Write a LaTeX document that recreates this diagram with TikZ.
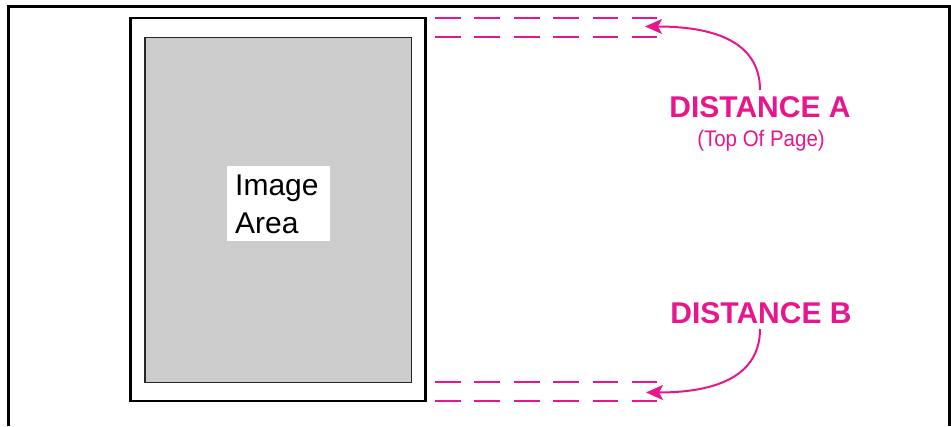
\documentclass[tikz,border=0pt]{standalone}
\usepackage{fontspec}
\setmainfont{Liberation Sans}
\newfontfamily\condfont[FakeStretch=0.91]{Liberation Sans}
\usetikzlibrary{arrows.meta}
\definecolor{mag}{RGB}{231,22,140}
\definecolor{areagray}{RGB}{204,204,204}
\tikzset{
  frameline/.style={line width=3pt, black},
  pageline/.style={line width=2.5pt, black},
  dashrow/.style={mag, line width=2pt, dash pattern=on 25.7pt off 13.7pt},
  magarrow/.style={mag, line width=2pt, -{Stealth[length=17pt, width=15pt, inset=4pt]}},
  bigmag/.style={mag, font=\fontsize{30}{30}\selectfont\bfseries, anchor=base, inner sep=0pt},
  smallmag/.style={mag, font=\condfont\fontsize{22.5}{22.5}\selectfont, anchor=base, inner sep=0pt},
  arealabel/.style={font=\fontsize{30}{38}\selectfont, anchor=base west, inner sep=0pt, align=left}
}
\begin{document}
\begin{tikzpicture}[x=1pt, y=-1pt]
\useasboundingbox (0,0) rectangle (951,426);
% outer frame (bottom edge not shown)
\draw[frameline] (8.5,426) -- (8.5,6.5) -- (949.5,6.5) -- (949.5,426);
% page and image area
\draw[pageline, fill=white] (130.5,17.8) rectangle (425.3,401.2);
\draw[line width=1.3pt, black!85, fill=areagray] (145,37.3) rectangle (411.7,382.2);
\fill[white] (227,166) rectangle (330,241);
\node[arealabel] (imgtxt) at (235,195) {Image};
\node[arealabel] (areatxt) at (235,233) {Area};
% dashed guide lines
\coordinate (t1s) at (435,17.8);  \coordinate (t1e) at (657,17.8);
\coordinate (t2s) at (435,36.8);  \coordinate (t2e) at (657,36.8);
\coordinate (b1s) at (435,382.2); \coordinate (b1e) at (657,382.2);
\coordinate (b2s) at (435,401.2); \coordinate (b2e) at (657,401.2);
\draw[dashrow] (t1s) -- (t1e);
\draw[dashrow] (t2s) -- (t2e);
\draw[dashrow] (b1s) -- (b1e);
\draw[dashrow] (b2s) -- (b2e);
% labels
\node[bigmag] (distA) at (760,117) {DISTANCE A};
\node[smallmag] (topofpage) at (761,146.7) {(Top Of Page)};
\node[bigmag] (distB) at (761,323) {DISTANCE B};
% arrows
\coordinate (aStart) at (760,90);
\coordinate (aTip) at (645,26.5);
\coordinate (bStart) at (760,329);
\coordinate (bTip) at (646,392.5);
\draw[magarrow] (aStart) .. controls (760,45) and (720,26.5) .. (aTip);
\draw[magarrow] (bStart) .. controls (760,374) and (720,392.5) .. (bTip);
\end{tikzpicture}
\end{document}
